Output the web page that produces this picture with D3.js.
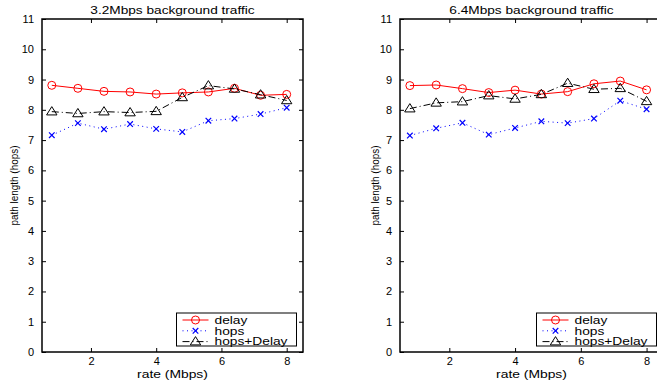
<!DOCTYPE html>
<html>
<head>
<meta charset="utf-8">
<script src="https://cdn.jsdelivr.net/npm/d3@7"></script>
<style>
  html, body { margin: 0; padding: 0; background: #fff; }
  svg { display: block; font-family: "Liberation Sans", Arial, Helvetica, sans-serif; }
</style>
</head>
<body>
<div id="chart"></div>
<script>
// rates on the x axis (Mbps)
const rates = [0.8, 1.6, 2.4, 3.2, 4.0, 4.8, 5.6, 6.4, 7.2, 8.0];

// 3.2Mbps background traffic
const delay32 = [8.81, 8.71, 8.61, 8.59, 8.52, 8.56, 8.59, 8.71, 8.48, 8.51];
const hops32 = [7.16, 7.56, 7.36, 7.53, 7.37, 7.27, 7.64, 7.71, 7.86, 8.07];
const hopsDelay32 = [7.94, 7.88, 7.94, 7.91, 7.95, 8.41, 8.80, 8.69, 8.50, 8.31];

// 6.4Mbps background traffic
const delay64 = [8.80, 8.82, 8.70, 8.57, 8.65, 8.52, 8.60, 8.86, 8.95, 8.66];
const hops64 = [7.15, 7.39, 7.57, 7.18, 7.40, 7.62, 7.56, 7.71, 8.30, 8.02];
const hopsDelay64 = [8.04, 8.23, 8.27, 8.47, 8.36, 8.51, 8.88, 8.68, 8.71, 8.28];

const titles = ['3.2Mbps background traffic', '6.4Mbps background traffic'];
const seriesNames = ['delay', 'hops', 'hops+Delay'];
const xTicks = [2, 4, 6, 8];
const yTicks = [0, 1, 2, 3, 4, 5, 6, 7, 8, 9, 10, 11];

const W = 657, H = 383;
const svg = d3.select('#chart').append('svg')
  .attr('width', W)
  .attr('height', H);
svg.append('rect').attr('width', W).attr('height', H).attr('fill', '#fff');

const styles = [
  {color: '#ff0000', dash: null, marker: 'circle'},
  {color: '#0000ff', dash: '1,3.5', marker: 'x'},
  {color: '#000000', dash: '7,3,1,3', marker: 'triangle'}
];

// the original figure's labels are a bit wider than the font, stretch them
function stretch(sel, k) {
  const len = sel.node().getComputedTextLength();
  sel.attr('textLength', len * k).attr('lengthAdjust', 'spacingAndGlyphs');
  return sel;
}

function drawMarker(g, type, cx, cy, color) {
  if (type === 'circle') {
    g.append('circle')
      .attr('cx', cx).attr('cy', cy).attr('r', 4)
      .attr('fill', 'none').attr('stroke', color).attr('stroke-width', 1);
  } else if (type === 'x') {
    const s = 2.8;
    g.append('path')
      .attr('d', `M${cx - s},${cy - s}L${cx + s},${cy + s}M${cx - s},${cy + s}L${cx + s},${cy - s}`)
      .attr('stroke', color).attr('stroke-width', 1.2).attr('fill', 'none');
  } else {
    g.append('path')
      .attr('d', `M${cx},${cy - 5}L${cx + 5.2},${cy + 3.3}L${cx - 5.2},${cy + 3.3}Z`)
      .attr('stroke', color).attr('stroke-width', 1).attr('fill', 'none');
  }
}

const panels = [
  {left: 42, right: 303, series: [delay32, hops32, hopsDelay32], labelX: 14},
  {left: 400, right: 663, series: [delay64, hops64, hopsDelay64], labelX: 375}
];
const plotTop = 19, plotBottom = 352;

panels.forEach((p, pi) => {
  const x = d3.scaleLinear().domain([0.5, 8.5]).range([p.left, p.right]);
  const y = d3.scaleLinear().domain([0, 11]).range([plotBottom, plotTop]);
  const g = svg.append('g');

  // ticks on all four sides, pointing inwards
  g.append('g').attr('transform', `translate(0,${plotBottom})`)
    .call(d3.axisBottom(x).tickValues(xTicks).tickSizeInner(-4).tickSizeOuter(0).tickPadding(5))
    .call(a => a.select('.domain').remove())
    .call(a => a.selectAll('text').attr('font-size', 11).attr('fill', '#000').attr('font-family', null));
  g.append('g').attr('transform', `translate(0,${plotTop})`)
    .call(d3.axisTop(x).tickValues(xTicks).tickSizeInner(-4).tickSizeOuter(0).tickFormat(''))
    .call(a => a.select('.domain').remove());
  g.append('g').attr('transform', `translate(${p.left},0)`)
    .call(d3.axisLeft(y).tickValues(yTicks).tickSizeInner(-4).tickSizeOuter(0).tickPadding(8))
    .call(a => a.select('.domain').remove())
    .call(a => a.selectAll('text').attr('font-size', 11).attr('fill', '#000').attr('font-family', null));
  g.append('g').attr('transform', `translate(${p.right},0)`)
    .call(d3.axisRight(y).tickValues(yTicks).tickSizeInner(-4).tickSizeOuter(0).tickFormat(''))
    .call(a => a.select('.domain').remove());

  g.append('rect')
    .attr('x', p.left).attr('y', plotTop)
    .attr('width', p.right - p.left).attr('height', plotBottom - plotTop)
    .attr('fill', 'none').attr('stroke', '#000').attr('stroke-width', 1.5);

  // series
  p.series.forEach((vals, si) => {
    const st = styles[si];
    const line = d3.line().x((d, i) => x(rates[i])).y(d => y(d));
    g.append('path')
      .datum(vals)
      .attr('d', line)
      .attr('fill', 'none')
      .attr('stroke', st.color)
      .attr('stroke-width', 1)
      .attr('stroke-dasharray', st.dash);
    vals.forEach((v, i) => drawMarker(g, st.marker, x(rates[i]), y(v), st.color));
  });

  // title and axis labels
  stretch(g.append('text')
    .attr('x', (p.left + p.right) / 2).attr('y', 14)
    .attr('text-anchor', 'middle').attr('font-size', 11)
    .text(titles[pi]), 1.24);
  stretch(g.append('text')
    .attr('x', (p.left + p.right) / 2).attr('y', 378)
    .attr('text-anchor', 'middle').attr('font-size', 11)
    .text('rate (Mbps)'), 1.26);
  g.append('text')
    .attr('transform', `translate(${p.labelX},${(plotTop + plotBottom) / 2}) rotate(-90)`)
    .attr('text-anchor', 'middle').attr('dy', '0.35em')
    .attr('font-size', 10).attr('textLength', 80).attr('lengthAdjust', 'spacingAndGlyphs')
    .text('path length (hops)');

  // legend box
  const lgRight = p.right - 6.5;
  const lgLeft = lgRight - 120;
  const lg = g.append('g');
  lg.append('rect')
    .attr('x', lgLeft).attr('y', 313)
    .attr('width', 120).attr('height', 33)
    .attr('fill', '#fff').attr('stroke', '#000').attr('stroke-width', 1);
  seriesNames.forEach((name, si) => {
    const st = styles[si];
    const ly = 320 + si * 10.8;
    lg.append('line')
      .attr('x1', lgLeft + 6).attr('x2', lgLeft + 32)
      .attr('y1', ly).attr('y2', ly)
      .attr('stroke', st.color).attr('stroke-width', 1)
      .attr('stroke-dasharray', st.dash);
    drawMarker(lg, st.marker, lgLeft + 19, ly, st.color);
    stretch(lg.append('text')
      .attr('x', lgLeft + 38).attr('y', ly).attr('dy', '0.35em')
      .attr('font-size', 11)
      .text(name), 1.25);
  });
});
</script>
</body>
</html>
